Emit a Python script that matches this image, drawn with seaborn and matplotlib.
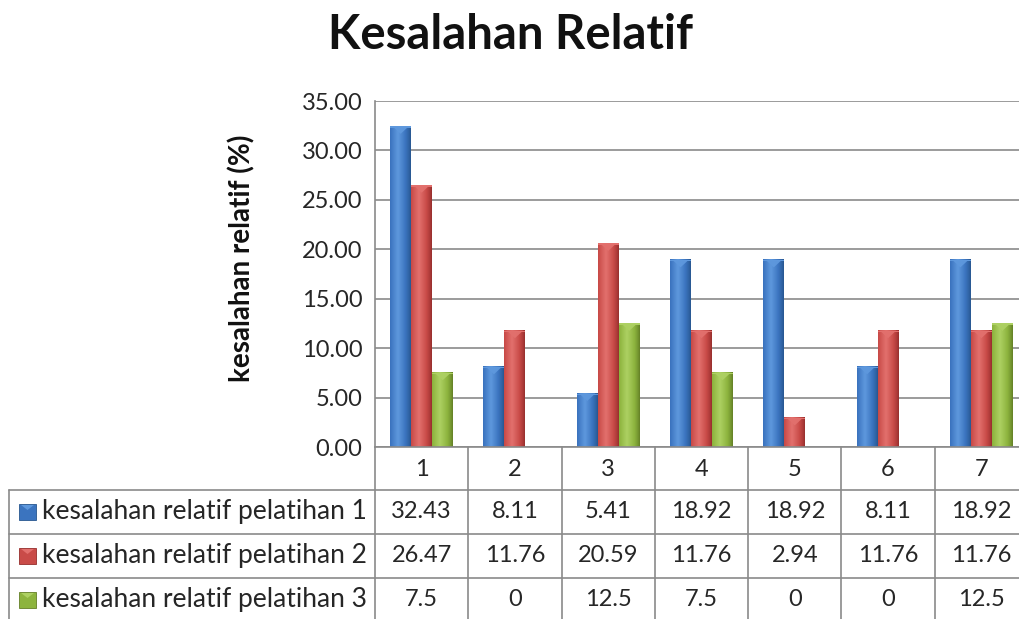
import numpy as np
import pandas as pd
import matplotlib
matplotlib.use("Agg")
import matplotlib.pyplot as plt
import matplotlib.transforms as mtransforms
from matplotlib.patches import Polygon, Rectangle
from matplotlib.lines import Line2D
import matplotlib.colors as mcolors
import seaborn as sns

# ---------------- data ----------------
categories = ["1", "2", "3", "4", "5", "6", "7"]
series_names = ["kesalahan relatif pelatihan 1",
                "kesalahan relatif pelatihan 2",
                "kesalahan relatif pelatihan 3"]
pelatihan1 = [32.43, 8.11, 5.41, 18.92, 18.92, 8.11, 18.92]
pelatihan2 = [26.47, 11.76, 20.59, 11.76, 2.94, 11.76, 11.76]
pelatihan3 = [7.5, 0, 12.5, 7.5, 0, 0, 12.5]
series_values = [pelatihan1, pelatihan2, pelatihan3]
yticks = [0, 5, 10, 15, 20, 25, 30, 35]
title = "Kesalahan Relatif"
ylabel = "kesalahan relatif (%)"

base_colors = ["#3b74bf", "#c94b48", "#8db43e"]
light_colors = ["#5e98dd", "#e2706d", "#add062"]
dark_colors = ["#27568f", "#962e2c", "#637f26"]

df = pd.DataFrame({
    "kategori": np.repeat([categories], 3, axis=0).ravel(),
    "nilai": np.concatenate(series_values),
    "seri": np.repeat(series_names, len(categories)),
})

sns.set_theme(style="white")
plt.rcParams["font.family"] = ["Lato", "DejaVu Sans"]

W, H = 1019, 619
fig = plt.figure(figsize=(W / 100, H / 100), dpi=100)
fig.patch.set_facecolor("white")

ax_left, ax_right = 375, 1028
ax_top, ax_bot = 101, 447
ax = fig.add_axes([ax_left / W, 1 - ax_bot / H, (ax_right - ax_left) / W, (ax_bot - ax_top) / H])

sns.barplot(data=df, x="kategori", y="nilai", hue="seri", order=categories,
            hue_order=series_names, palette=base_colors, width=0.675,
            saturation=1, ax=ax, legend=False, edgecolor="none", zorder=2)

ax.set_facecolor("none")
ax.set_ylim(0, 35)
ax.set_xlim(-0.5, len(categories) - 0.5)
ax.set_yticks(yticks)
ax.set_yticklabels([f"{v:.2f}" for v in yticks], fontsize=17, color="#262626")
ax.tick_params(axis="y", length=0, pad=9)
ax.tick_params(axis="x", length=0, labelbottom=False)
ax.set_xlabel("")
ax.set_ylabel("")
ax.set_axisbelow(True)
ax.yaxis.grid(True, color="#8a8a8a", linewidth=1.2)
for s in ["top", "right"]:
    ax.spines[s].set_visible(False)
ax.spines["left"].set_color("#8a8a8a")
ax.spines["bottom"].set_color("#8a8a8a")
ax.spines["left"].set_linewidth(1.2)
ax.spines["bottom"].set_linewidth(1.2)


def cylinder_gradient(dark, mid, light, n=64):
    t = np.linspace(0, 1, n)
    d = np.array(mcolors.to_rgb(dark))
    m = np.array(mcolors.to_rgb(mid))
    li = np.array(mcolors.to_rgb(light))
    prof = np.clip(1 - np.abs(t - 0.38) / 0.62, 0, 1) ** 0.8
    cols = np.where(prof[:, None] < 0.5,
                    d + (m - d) * (prof[:, None] / 0.5),
                    m + (li - m) * ((prof[:, None] - 0.5) / 0.5))
    return cols[None, :, :]


for cont, dk, md, lt in zip(ax.containers, dark_colors, base_colors, light_colors):
    grad = cylinder_gradient(dk, md, lt)
    for rect in cont:
        x0, w, h = rect.get_x(), rect.get_width(), rect.get_height()
        if h <= 0:
            continue
        rect.set_facecolor("none")
        ax.imshow(grad, extent=[x0, x0 + w, 0, h], aspect="auto",
                  interpolation="bilinear", zorder=2.1)
        cap_h = 0.75
        tri = Polygon([[x0 + 0.12 * w, h], [x0 + 0.88 * w, h], [x0 + 0.5 * w, h - cap_h]],
                      closed=True, facecolor=lt, edgecolor="none", alpha=0.95, zorder=2.2)
        ax.add_patch(tri)
        ax.add_patch(Rectangle((x0, h - 0.12), w, 0.12, facecolor=lt, edgecolor="none",
                               zorder=2.2))

ax.set_ylim(0, 35)
ax.set_xlim(-0.5, len(categories) - 0.5)

# ---------------- titles ----------------
fig.text(511 / W, 1 - 35 / H, title, ha="center", va="center", fontsize=34,
         fontweight="bold", color="#111111")
fig.text(242 / W, 1 - 258 / H, ylabel, ha="center", va="center", rotation=90,
         fontsize=20, fontweight="bold", color="#111111")

# ---------------- data table ----------------
trans = mtransforms.blended_transform_factory(ax.transData, fig.transFigure)
line_c = "#8a8a8a"
row_edges = [447, 490, 534, 578, 622]


def fy(p):
    return 1 - p / H


for i in range(len(categories) + 1):
    xb = i - 0.5
    fig.add_artist(Line2D([xb, xb], [fy(row_edges[0]), fy(row_edges[-1])],
                          transform=trans, color=line_c, lw=1.2, clip_on=False))
for i, c in enumerate(categories):
    fig.text(i, fy((row_edges[0] + row_edges[1]) / 2 + 1), c, transform=trans,
             ha="center", va="center", fontsize=17, color="#262626")

left_px = 9
for yb in row_edges[1:]:
    fig.add_artist(Line2D([left_px / W, 1.0], [fy(yb), fy(yb)], transform=fig.transFigure,
                          color=line_c, lw=1.2))
fig.add_artist(Line2D([left_px / W, left_px / W], [fy(row_edges[1]), fy(row_edges[-1])],
                      transform=fig.transFigure, color=line_c, lw=1.2))

for r, (name, vals, md, lt, dk) in enumerate(zip(series_names, series_values,
                                                 base_colors, light_colors, dark_colors)):
    yc = (row_edges[r + 1] + row_edges[r + 2]) / 2
    kx, kw, kh = 19, 17, 16
    fig.add_artist(Rectangle((kx / W, fy(yc + kh / 2)), kw / W, kh / H,
                             transform=fig.transFigure, facecolor=md, edgecolor=dk, lw=0.6))
    fig.add_artist(Polygon([[(kx + 2) / W, fy(yc - kh / 2 + 1)], [(kx + kw - 2) / W, fy(yc - kh / 2 + 1)],
                            [(kx + kw / 2) / W, fy(yc - kh / 2 + 6)]],
                           transform=fig.transFigure, facecolor=lt, edgecolor="none"))
    fig.text(42 / W, fy(yc), name, ha="left", va="center", fontsize=19, color="#262626")
    for i, v in enumerate(vals):
        fig.text(i, fy(yc), f"{v:g}", transform=trans, ha="center", va="center",
                 fontsize=17, color="#262626")

fig.savefig("out.png", dpi=100)
